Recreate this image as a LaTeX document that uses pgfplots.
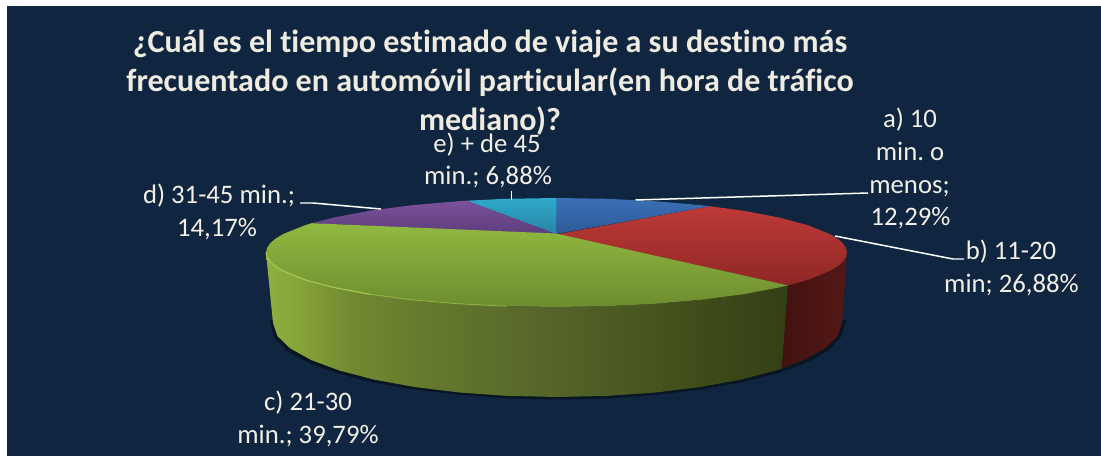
\documentclass[border=0pt]{standalone}
\usepackage{pgfplots}
\pgfplotsset{compat=1.18}
\usepackage{fontspec}
\setmainfont{Carlito}[Ligatures={NoCommon}]
\frenchspacing
\definecolor{bgc}{HTML}{10253F}
\definecolor{txt}{HTML}{F2F0E8}
\definecolor{ttlc}{HTML}{EEECE1}
\pgfdeclarehorizontalshading{greenside}{100bp}{
  color(0bp)=({rgb,255:red,143;green,176;blue,62});
  color(25bp)=({rgb,255:red,143;green,176;blue,62});
  color(29bp)=({rgb,255:red,132;green,159;blue,56});
  color(33bp)=({rgb,255:red,113;green,138;blue,49});
  color(40bp)=({rgb,255:red,101;green,122;blue,45});
  color(52bp)=({rgb,255:red,85;green,101;blue,42});
  color(68bp)=({rgb,255:red,61;green,74;blue,24});
  color(75bp)=({rgb,255:red,52;green,63;blue,21});
  color(100bp)=({rgb,255:red,52;green,63;blue,21})}
\tikzset{
  lbl/.style={font=\fontsize{26.8}{30}\selectfont,text=txt,anchor=base,inner sep=0pt},
  ttl/.style={font=\fontsize{32.2}{38}\selectfont\bfseries,text=ttlc,anchor=base,inner sep=0pt},
  lead/.style={draw=white,line width=1.5pt},
}
\begin{document}
\begin{tikzpicture}[x=1bp,y=1bp]
\begin{axis}[
  scale only axis, width=1101bp, height=456bp,
  xmin=0,xmax=1101,ymin=0,ymax=456,y dir=reverse,
  hide axis, clip=false,
  every axis plot/.append style={mark=none,forget plot},
]
% page and background panel
\addplot[fill=white,draw=none] coordinates {(0,0)(1101,0)(1101,456)(0,456)} --cycle;
\addplot[fill=bgc,draw=none] coordinates {(7,6)(1101,6)(1101,456)(7,456)} --cycle;
% shadow
\addplot[fill=black!55!bgc,draw=none,opacity=.8] coordinates {(270,320)(274,337)(287,351)(309,363)(338,373.5)(373,382.5)(414,389.5)(460,395)(508,398.5)(557.5,399.5)(607,398.5)(655,395)(700,389.5)(741,382.5)(777,373.5)(806,363)(828,351)(841,337)(846,320)} --cycle;
% side: green
\addplot[draw=none,shading=greenside] coordinates {(266,252.5)(267.1,257.2)(270.4,262)(275.9,266.6)(283.5,271.1)(304.9,279.8)(334,287.5)(369.7,294.3)(411.3,299.7)(457.1,303.7)(506,306.2)(556.5,307)(607,306.2)(655.9,303.7)(701.8,299.7)(743.2,294.3)(779,287.5)(788,285.4)(782,368.6)(775.4,370.6)(740.4,379.7)(699.8,387.1)(654.8,392.6)(607,395.9)(557.5,397)(508,395.9)(460.2,392.6)(415.3,387.1)(374.6,379.7)(339.6,370.6)(311.1,360)(290.1,348.3)(277.3,335.9)(273,323)} --cycle;
% side: red
\addplot[draw=none,left color={rgb,255:red,66;green,18;blue,16},right color={rgb,255:red,84;green,24;blue,22}] coordinates {(788,285.4)(808.1,279.8)(829.5,271.1)(837.1,266.6)(842.6,262)(845.9,257.2)(847,252.5)(842,323)(837.7,335.9)(824.9,348.3)(803.9,360)(782,368.6)} --cycle;
% top: blue
\addplot[draw=none,top color={rgb,255:red,58;green,112;blue,182},bottom color={rgb,255:red,45;green,90;blue,150}] coordinates {(556,234)(556.5,198)(607,198.8)(655.9,201.3)(701.8,205.3)(710.4,206.3)} --cycle;
% top: red
\addplot[draw=none,top color={rgb,255:red,190;green,58;blue,55},bottom color={rgb,255:red,142;green,39;blue,37}] coordinates {(556,234.5)(710.4,206.3)(743.2,210.7)(779,217.5)(808.1,225.3)(829.5,233.9)(837.1,238.4)(842.6,243)(845.9,247.8)(847,252.5)(845.9,257.2)(842.6,262)(837.1,266.6)(829.5,271.1)(808.1,279.8)(788,285.4)} --cycle;
% top: cyan
\addplot[draw=none,top color={rgb,255:red,47;green,169;blue,203},bottom color={rgb,255:red,42;green,132;blue,166}] coordinates {(556,234)(466.7,200.7)(506,198.8)(556.5,198)} --cycle;
% top: purple
\addplot[draw=none,top color={rgb,255:red,123;green,81;blue,156},bottom color={rgb,255:red,94;green,61;blue,124}] coordinates {(556,234)(311.7,223.2)(334,217.5)(369.7,210.7)(411.3,205.3)(457.1,201.3)(466.7,200.7)} --cycle;
% top: green
\addplot[draw=none,top color={rgb,255:red,144;green,185;blue,64},bottom color={rgb,255:red,110;green,140;blue,48}] coordinates {(556,233.5)(788,285.4)(779,287.5)(743.2,294.3)(701.8,299.7)(655.9,303.7)(607,306.2)(556.5,307)(506,306.2)(457.1,303.7)(411.3,299.7)(369.7,294.3)(334,287.5)(304.9,279.8)(283.5,271.1)(275.9,266.6)(270.4,262)(267.1,257.2)(266,252.5)(267.1,247.8)(270.4,243)(275.9,238.4)(283.5,233.9)(304.9,225.3)(311.7,223.2)} --cycle;
% rim highlight
\addplot[draw={rgb,255:red,166;green,200;blue,80},line width=1.2pt] coordinates {(266,252.5)(267.1,257.2)(270.4,262)(275.9,266.6)(283.5,271.1)(304.9,279.8)(334,287.5)(369.7,294.3)};
\addplot[draw={rgb,255:red,150;green,185;blue,70},line width=.8pt] coordinates {(369.7,294.3)(411.3,299.7)(457.1,303.7)(506,306.2)};
% leader lines
\addplot[lead] coordinates {(635.5,200)(868,193)};
\addplot[lead] coordinates {(835,236)(953,259)(964,259)};
\addplot[lead] coordinates {(300,203)(313,203)(381,209)};
\addplot[lead] coordinates {(511.7,191)(511.7,200)};
% title
\node[ttl] at (axis cs:490,53) {¿Cuál es el tiempo estimado de viaje a su destino más};
\node[ttl] at (axis cs:490,91.5) {frecuentado en automóvil particular(en hora de tráfico};
\node[ttl] at (axis cs:490,130) {mediano)?};
% labels
\node[lbl] at (axis cs:910,127) {a) 10};
\node[lbl] at (axis cs:910,160) {min. o};
\node[lbl] at (axis cs:909.5,193) {menos;};
\node[lbl] at (axis cs:910.5,225) {12,29\%};
\node[lbl] at (axis cs:1011,259) {b) 11-20};
\node[lbl] at (axis cs:1011.5,292) {min; 26,88\%};
\node[lbl] at (axis cs:308,410) {c) 21-30};
\node[lbl] at (axis cs:308,443) {min.; 39,79\%};
\node[lbl] at (axis cs:219,203) {d) 31-45 min.;};
\node[lbl] at (axis cs:217,236) {14,17\%};
\node[lbl] at (axis cs:487,152) {e) + de 45};
\node[lbl] at (axis cs:488,184) {min.; 6,88\%};
\end{axis}
\end{tikzpicture}
\end{document}
